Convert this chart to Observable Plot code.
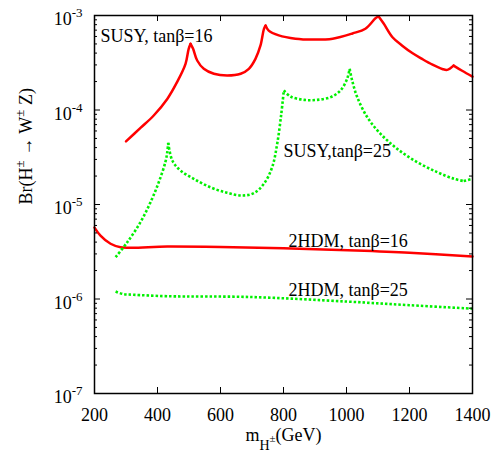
<!DOCTYPE html>
<html><head><meta charset="utf-8">
<script src="https://cdn.jsdelivr.net/npm/d3@7"></script>
<script src="https://cdn.jsdelivr.net/npm/@observablehq/plot@0.6"></script>
<style>body{margin:0;background:#fff} svg{display:block}</style>
</head><body><div id="chart"></div>
<script>
// SUSY, tanβ=16 (red solid)
const susy16Mass = [300,346,388,431,462,489,499,505,513,526,547,579,621,664,690,711,727,738,743,753,785,838,892,956,1019,1060,1092,1102,1118,1146,1177,1210,1240,1273,1304,1320,1340,1367,1400];
const susy16Br   = [4.65e-5,6.46e-5,8.75e-5,1.31e-4,1.97e-4,3.08e-4,4.44e-4,5.01e-4,4.44e-4,3.34e-4,2.73e-4,2.42e-4,2.32e-4,2.42e-4,2.73e-4,3.48e-4,4.82e-4,7.23e-4,7.83e-4,6.92e-4,6.17e-4,5.69e-4,5.57e-4,5.69e-4,6.46e-4,7.24e-4,9.33e-4,9.77e-4,8.22e-4,5.89e-4,4.79e-4,3.98e-4,3.47e-4,3.02e-4,2.72e-4,2.66e-4,2.95e-4,2.60e-4,2.26e-4];
const susy16Cusps = [505, 743, 1102, 1340];
// SUSY, tanβ=25 (green dotted)
const susy25Mass = [267,304,346,378,404,425,431,434,447,473,515,568,621,669,706,738,764,780,793,801,822,865,907,950,981,1002,1010,1018,1034,1066,1108,1161,1224,1288,1341,1372,1400];
const susy25Br   = [2.77e-6,3.99e-6,6.5e-6,1.06e-5,1.72e-5,2.81e-5,3.58e-5,4.5e-5,2.92e-5,2.29e-5,1.87e-5,1.52e-5,1.33e-5,1.245e-5,1.32e-5,1.66e-5,2.48e-5,4.39e-5,9.12e-5,1.61e-4,1.39e-4,1.28e-4,1.28e-4,1.37e-4,1.61e-4,2.14e-4,2.73e-4,2.05e-4,1.37e-4,8.39e-5,5.6e-5,3.88e-5,2.81e-5,2.2e-5,1.87e-5,1.77e-5,1.87e-5];
const susy25Cusps = [434, 801, 1010, 1372];
// 2HDM, tanβ=16 (red solid)
const hdm16Mass = [200,219,251,283,431,600,800,1029,1200,1400];
const hdm16Br   = [5.7e-6,4.69e-6,3.84e-6,3.53e-6,3.59e-6,3.55e-6,3.44e-6,3.26e-6,3.09e-6,2.82e-6];
// 2HDM, tanβ=25 (green dotted)
const hdm25Mass = [267,290,324,431,695,1000,1200,1400];
const hdm25Br   = [1.2e-6,1.13e-6,1.11e-6,1.07e-6,1.05e-6,9.4e-7,8.6e-7,7.9e-7];

const xTicks = [200,400,600,800,1000,1200,1400];
const yTicks = [1e-7,1e-6,1e-5,1e-4,1e-3];
const yTickExponents = ["-7","-6","-5","-4","-3"];

// rows split into smooth pieces at the cusps (cusp point shared by both pieces)
function pieces(xs, ys, cusps = []) {
  const rows = []; let seg = 0;
  xs.forEach((x, i) => {
    rows.push({x, y: ys[i], seg});
    if (cusps.includes(x)) { seg++; rows.push({x, y: ys[i], seg}); }
  });
  return rows;
}

const W = 495, H = 454, mL = 94, mR = 23, mT = 15, mB = 61;
const fw = W - mL - mR, fh = H - mT - mB;
const minorY = [];
for (const d of yTicks.slice(0, -1)) for (let k = 2; k < 10; k++) minorY.push(d * k);

const font = "'Liberation Serif','Times New Roman',Times,serif";
const RED = "#ff0000", GREEN = "#00f000";
const solid = {x: "x", y: "y", z: "seg", stroke: RED, strokeWidth: 2.5, curve: "catmull-rom"};
const dotted = {x: "x", y: "y", z: "seg", stroke: GREEN, strokeWidth: 2.6, strokeDasharray: "2.5,2", strokeLinecap: "butt", curve: "catmull-rom"};

const chart = Plot.plot({
  width: W, height: H,
  marginLeft: mL, marginRight: mR, marginTop: mT, marginBottom: mB,
  style: {fontFamily: font, fontSize: "18px", color: "black", background: "white"},
  x: {domain: [200, 1400]},
  y: {type: "log", domain: [1e-7, 1e-3]},
  marks: [
    Plot.line(pieces(hdm16Mass, hdm16Br), solid),
    Plot.line(pieces(susy16Mass, susy16Br, susy16Cusps), solid),
    Plot.line(pieces(hdm25Mass, hdm25Br), dotted),
    Plot.line(pieces(susy25Mass, susy25Br, susy25Cusps), dotted),
    Plot.ruleX(xTicks.slice(1, -1), {x: d => d, insetTop: fh - 6, stroke: "black"}),
    Plot.ruleX(xTicks.slice(1, -1), {x: d => d, insetBottom: fh - 6, stroke: "black"}),
    Plot.ruleY(yTicks, {y: d => d, insetRight: fw - 6, stroke: "black"}),
    Plot.ruleY(yTicks, {y: d => d, insetLeft: fw - 6, stroke: "black"}),
    Plot.ruleY(minorY, {y: d => d, insetRight: fw - 3, stroke: "black"}),
    Plot.ruleY(minorY, {y: d => d, insetLeft: fw - 3, stroke: "black"}),
    Plot.frame({stroke: "black", strokeWidth: 1.5}),
    Plot.axisX(xTicks, {tickSize: 0, tickPadding: 15, fontSize: 18, fontFamily: font, label: null, tickFormat: d => String(d)}),
    Plot.axisY(yTicks, {tickSize: 0, tickPadding: 12, fontSize: 18, fontFamily: font, label: null, dy: 4,
      tickFormat: d => "10^" + yTickExponents[yTicks.indexOf(d)]}),
    Plot.text(["SUSY, tanβ=16"], {x: 219, y: 6.1e-4, text: d => d, textAnchor: "start", fontSize: 18, fontFamily: font}),
    Plot.text(["SUSY,tanβ=25"], {x: 800, y: 3.7e-5, text: d => d, textAnchor: "start", fontSize: 18, fontFamily: font}),
    Plot.text(["2HDM, tanβ=16"], {x: 816, y: 4.04e-6, text: d => d, textAnchor: "start", fontSize: 18, fontFamily: font}),
    Plot.text(["2HDM, tanβ=25"], {x: 816, y: 1.25e-6, text: d => d, textAnchor: "start", fontSize: 18, fontFamily: font}),
    Plot.text(["@YLABEL"], {frameAnchor: "left", dx: -68, rotate: -90, text: d => d, fontSize: 18, fontFamily: font}),
    Plot.text(["@XLABEL"], {frameAnchor: "bottom", dy: 47, text: d => d, fontSize: 18, fontFamily: font})
  ]
});

function rich(el, parts) {
  el.textContent = "";
  for (const p of parts) {
    const ts = document.createElementNS("http://www.w3.org/2000/svg", "tspan");
    ts.textContent = p.t;
    if (p.dy) ts.setAttribute("dy", p.dy);
    if (p.size) ts.setAttribute("font-size", p.size);
    el.appendChild(ts);
  }
}
d3.select(chart).selectAll("text").each(function() {
  const t = this.textContent;
  const m = /^10\^(-?\d+)$/.exec(t);
  if (m) rich(this, [{t: "10"}, {t: m[1], dy: -8, size: 13}]);
  else if (t === "@YLABEL") rich(this, [{t: "Br(H"}, {t: "±", dy: -8, size: 13}, {t: " → W", dy: 8}, {t: "±", dy: -8, size: 13}, {t: " Z)", dy: 8}]);
  else if (t === "@XLABEL") rich(this, [{t: "m"}, {t: "H", dy: 9, size: 14}, {t: "±", dy: -8, size: 11}, {t: "(GeV)", dy: -1}]);
});
document.getElementById("chart").appendChild(chart);
</script>
</body></html>
